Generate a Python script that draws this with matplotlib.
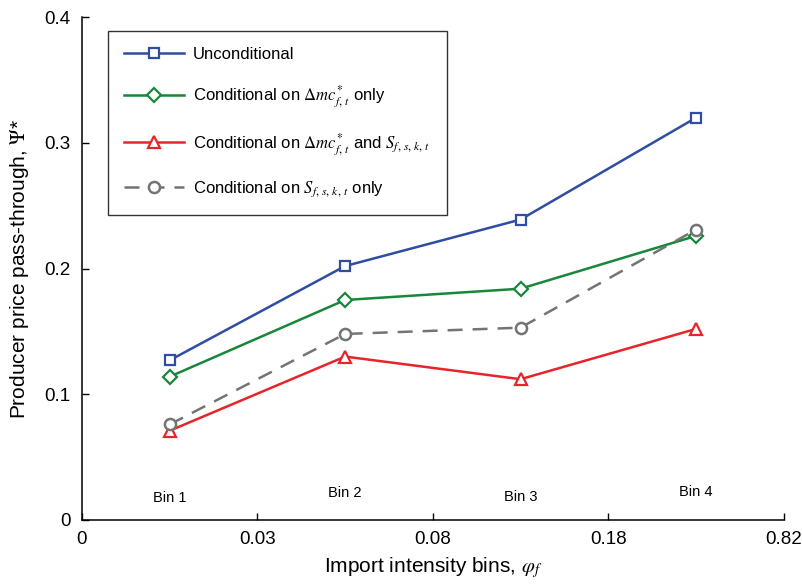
import matplotlib
matplotlib.use("Agg")
import matplotlib.pyplot as plt
import numpy as np

plt.rcParams['font.family'] = ['Liberation Sans', 'DejaVu Sans']
plt.rcParams['mathtext.fontset'] = 'stix'

bins = ["Bin 1", "Bin 2", "Bin 3", "Bin 4"]
edge_labels = ["0", "0.03", "0.08", "0.18", "0.82"]
unconditional = [0.127, 0.202, 0.239, 0.320]
cond_mc = [0.114, 0.175, 0.184, 0.226]
cond_mc_s = [0.071, 0.130, 0.112, 0.152]
cond_s = [0.076, 0.148, 0.153, 0.231]
bin_label_y = [0.012, 0.016, 0.013, 0.017]

x = np.arange(len(bins)) + 0.5

fig = plt.figure(figsize=(8.03, 5.84), dpi=100)
ax = fig.add_axes([0.102, 0.1096, 0.874, 0.861])

ax.plot(x, unconditional, color='#2e4da3', lw=1.8, marker='s', ms=7,
        mfc='white', mec='#2e4da3', mew=1.6, label='Unconditional')
ax.plot(x, cond_mc, color='#17873a', lw=1.8, marker='D', ms=7,
        mfc='white', mec='#17873a', mew=1.6,
        label=r'Conditional on $\Delta mc^{*}_{f,\,t}$ only')
ax.plot(x, cond_mc_s, color='#e8242b', lw=1.8, marker='^', ms=8,
        mfc='white', mec='#e8242b', mew=1.6,
        label=r'Conditional on $\Delta mc^{*}_{f,\,t}$ and $S_{f,\,s,\,k,\,t}$')
ax.plot(x, cond_s, color='#747474', lw=1.8, ls=(0, (6, 4)), marker='o', ms=8,
        mfc='white', mec='#747474', mew=1.8,
        label=r'Conditional on $S_{f,\,s,\,k,\,t}$ only')

for xi, b, yb in zip(x, bins, bin_label_y):
    ax.text(xi, yb, b, ha='center', va='bottom', fontsize=10.5)

ax.set_xlim(0, 4)
ax.set_ylim(0, 0.4)
ax.set_xticks(np.arange(len(edge_labels)))
ax.set_xticklabels(edge_labels)
ax.set_yticks([0, 0.1, 0.2, 0.3, 0.4])
ax.set_yticklabels(["0", "0.1", "0.2", "0.3", "0.4"])
ax.tick_params(direction='in', length=5, labelsize=13.5, width=1)
ax.tick_params(axis='x', pad=8)
ax.tick_params(axis='y', pad=8)
ax.spines['top'].set_visible(False)
ax.spines['right'].set_visible(False)
for s in ['left', 'bottom']:
    ax.spines[s].set_linewidth(1.1)

ax.set_xlabel(r'Import intensity bins, $\varphi_f$', fontsize=15, labelpad=5)
ax.set_ylabel(r'Producer price pass-through, $\Psi$*', fontsize=15, labelpad=10)

leg = ax.legend(loc='upper left', bbox_to_anchor=(0.025, 0.99), fontsize=12,
                frameon=True, fancybox=False, edgecolor='black',
                handlelength=3.6, labelspacing=1.3, borderpad=1.0,
                handletextpad=0.5)
leg.get_frame().set_linewidth(1.0)

fig.savefig('out.png', dpi=100)
